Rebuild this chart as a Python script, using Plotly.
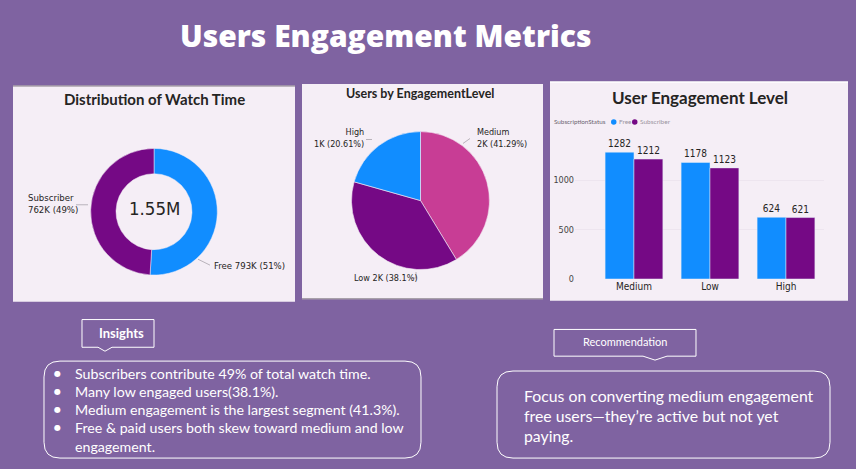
import plotly.graph_objects as go

W, H = 856, 469

# ---------------- data ----------------
watch_labels = ["Free", "Subscriber"]
watch_values = [793, 762]          # thousands of hours
watch_total_text = "1.55M"

level_labels = ["Medium", "Low", "High"]
level_users = [2494, 2301, 1245]

bar_levels = ["Medium", "Low", "High"]
free_counts = [1282, 1178, 624]
subscriber_counts = [1212, 1123, 621]

insights = [
    "Subscribers contribute 49% of total watch time.",
    "Many low engaged users(38.1%).",
    "Medium engagement is the largest segment (41.3%).",
    "Free & paid users both skew toward medium and low",
]
insight_tail = "engagement."
recommendation = [
    "Focus on converting medium engagement",
    "free users\u2014they\u2019re active but not yet",
    "paying.",
]

# ---------------- styling ----------------
BG = "#7F63A1"
PANEL = "#F5EEF6"
BLUE = "#118DFF"
PURPLE = "#750985"
PINK = "#C83D95"
DARK = "#252423"


def X(px):
    return px / W


def Y(py):
    return 1 - py / H


def rrect_path(x0, y0, x1, y1, r):
    pts = [
        ("M", [(x0 + r, y0)]),
        ("L", [(x1 - r, y0)]),
        ("Q", [(x1, y0), (x1, y0 + r)]),
        ("L", [(x1, y1 - r)]),
        ("Q", [(x1, y1), (x1 - r, y1)]),
        ("L", [(x0 + r, y1)]),
        ("Q", [(x0, y1), (x0, y1 - r)]),
        ("L", [(x0, y0 + r)]),
        ("Q", [(x0, y0), (x0 + r, y0)]),
    ]
    s = ""
    for cmd, ps in pts:
        s += cmd + " " + " ".join(f"{X(a):.5f},{Y(b):.5f}" for a, b in ps) + " "
    return s + "Z"


def callout_path(x0, y0, x1, y1, nx0, nx1, tip):
    ps = [(x0, y0), (x1, y0), (x1, y1), (nx1, y1), ((nx0 + nx1) / 2, tip), (nx0, y1), (x0, y1)]
    s = "M " + " L ".join(f"{X(a):.5f},{Y(b):.5f}" for a, b in ps)
    return s + " Z"


fig = go.Figure()

# Donut: distribution of watch time
fig.add_trace(go.Pie(
    labels=watch_labels, values=watch_values, hole=0.6, sort=False,
    direction="clockwise", rotation=0,
    marker=dict(colors=[BLUE, PURPLE], line=dict(color=PANEL, width=0.5)),
    textinfo="none", showlegend=False,
    domain=dict(x=[X(90), X(218)], y=[Y(278), Y(150)]),
))

# Pie: users by engagement level
fig.add_trace(go.Pie(
    labels=level_labels, values=level_users, sort=False,
    direction="clockwise", rotation=0,
    marker=dict(colors=[PINK, PURPLE, BLUE], line=dict(color=PANEL, width=0.6)),
    textinfo="none", showlegend=False,
    domain=dict(x=[X(351), X(490)], y=[Y(272.5), Y(133)]),
))

# Clustered bars
fig.add_trace(go.Bar(
    x=bar_levels, y=free_counts, name="Free", marker_color=BLUE,
    text=free_counts, texttemplate="%{y}", textposition="outside",
    textfont=dict(size=10, color=DARK, family="DejaVu Sans Condensed"),
    cliponaxis=False, showlegend=False,
))
fig.add_trace(go.Bar(
    x=bar_levels, y=subscriber_counts, name="Subscriber", marker_color=PURPLE,
    text=subscriber_counts, texttemplate="%{y}", textposition="outside",
    textfont=dict(size=10, color=DARK, family="DejaVu Sans Condensed"),
    cliponaxis=False, showlegend=False,
))

fig.update_layout(
    width=W, height=H,
    margin=dict(l=0, r=0, t=0, b=0),
    paper_bgcolor=BG, plot_bgcolor="rgba(0,0,0,0)",
    barmode="group", bargap=0.24, bargroupgap=0,
    xaxis=dict(domain=[X(575), X(824)], range=[-0.776, 2.5],
               tickfont=dict(size=10, color=DARK, family="DejaVu Sans Condensed"),
               showgrid=False, zeroline=False, showline=False, ticks=""),
    yaxis=dict(domain=[Y(282), Y(142)], range=[0, 1400],
               tickvals=[0, 500, 1000], tickfont=dict(size=9, color="#444", family="DejaVu Sans Condensed"),
               showgrid=True, gridcolor="#EDE5EF", gridwidth=1, zeroline=False, showline=False),
    font=dict(family="Lato"),
)

shapes = []
# panels
shapes.append(dict(type="rect", xref="paper", yref="paper", x0=X(13), x1=X(295), y0=Y(305), y1=Y(87),
                   fillcolor=PANEL, line=dict(width=0), layer="below"))
shapes.append(dict(type="line", xref="paper", yref="paper", x0=X(13), x1=X(295), y0=Y(87), y1=Y(87),
                   line=dict(color="#A8A0AA", width=1.5), layer="below"))
shapes.append(dict(type="rect", xref="paper", yref="paper", x0=X(302), x1=X(543), y0=Y(302), y1=Y(85),
                   fillcolor=PANEL, line=dict(width=0), layer="below"))
shapes.append(dict(type="line", xref="paper", yref="paper", x0=X(302), x1=X(543), y0=Y(302), y1=Y(302),
                   line=dict(color="#A8A0AA", width=1.5), layer="below"))
shapes.append(dict(type="rect", xref="paper", yref="paper", x0=X(550), x1=X(848), y0=Y(304), y1=Y(83),
                   fillcolor=PANEL, line=dict(width=0), layer="below"))
shapes.append(dict(type="line", xref="paper", yref="paper", x0=X(550), x1=X(848), y0=Y(83), y1=Y(83),
                   line=dict(color="#FFFFFF", width=1.5), layer="below"))

# callout boxes
shapes.append(dict(type="path", xref="paper", yref="paper", path=callout_path(82, 323, 154, 351, 98, 112, 355),
                   line=dict(color="white", width=1), fillcolor="rgba(0,0,0,0)"))
shapes.append(dict(type="path", xref="paper", yref="paper", path=rrect_path(44, 365, 421, 463, 16),
                   line=dict(color="white", width=1), fillcolor="rgba(0,0,0,0)"))
shapes.append(dict(type="path", xref="paper", yref="paper", path=callout_path(554, 333, 696, 360, 643, 667, 364),
                   line=dict(color="white", width=1), fillcolor="rgba(0,0,0,0)"))
shapes.append(dict(type="path", xref="paper", yref="paper", path=rrect_path(497, 375, 830, 463, 16),
                   line=dict(color="white", width=1), fillcolor="rgba(0,0,0,0)"))

# leader lines for pie labels
LEAD = "#B9B3BB"
for (ax0, ay0, ax1, ay1) in [(76, 207, 88, 207), (198, 262, 210, 268),
                             (366, 141, 372, 141), (463, 145, 470, 140),
                             (410, 281, 416, 281)]:
    shapes.append(dict(type="line", xref="paper", yref="paper", x0=X(ax0), y0=Y(ay0), x1=X(ax1), y1=Y(ay1),
                       line=dict(color=LEAD, width=1)))
shapes.append(dict(type="line", xref="paper", yref="paper", x0=X(416), y0=Y(281), x1=X(416), y1=Y(275),
                   line=dict(color=LEAD, width=1)))

# legend dots
shapes.append(dict(type="circle", xref="paper", yref="paper", x0=X(611), x1=X(616.5), y0=Y(126), y1=Y(120.5),
                   fillcolor=BLUE, line=dict(width=0)))
shapes.append(dict(type="circle", xref="paper", yref="paper", x0=X(632), x1=X(637.5), y0=Y(126), y1=Y(120.5),
                   fillcolor=PURPLE, line=dict(width=0)))
fig.update_layout(shapes=shapes)

ann = []


def txt(x, y, s, size, color=DARK, family="Lato", xanchor="center", bold=False, weight=None, align="left"):
    f = dict(size=size, color=color, family=family)
    if weight is not None:
        f["weight"] = weight
    elif bold:
        f["weight"] = "bold"
    ann.append(dict(x=X(x), y=Y(y), xref="paper", yref="paper", text=s, showarrow=False,
                    xanchor=xanchor, yanchor="middle", font=f, align=align))


# main title
txt(385, 36, "Users Engagement Metrics", 30, color="white", family="Open Sans", weight=800)

# panel titles
txt(154, 100, "Distribution of Watch Time", 15, family="Lato", weight="bold")
txt(420, 95, "Users by EngagementLevel", 12.5, family="Lato", weight="bold")
txt(700, 99, "User Engagement Level", 17, family="Lato", weight="bold")

# donut labels
LBL = "DejaVu Sans Condensed"
txt(154, 211, watch_total_text, 18.5, family=LBL)
txt(26, 206, f"{watch_labels[1]}<br>{watch_values[1]}K (49%)", 9.5, family=LBL, xanchor="left")
txt(212, 268, f"{watch_labels[0]} {watch_values[0]}K (51%)", 9.5, family=LBL, xanchor="left")

# pie labels
txt(366, 139, "High<br>1K (20.61%)", 9, family=LBL, xanchor="right", align="right")
txt(475, 139, "Medium<br>2K (41.29%)", 9, family=LBL, xanchor="left")
txt(352, 281, "Low 2K (38.1%)", 9, family=LBL, xanchor="left")

# legend texts
txt(552, 123, "SubscriptionStatus", 6.3, color="#6B6570", family="Lato", xanchor="left")
txt(617, 123, "Free", 6.5, color="#9A94A0", family="Lato", xanchor="left")
txt(638, 123, "Subscriber", 6.5, color="#9A94A0", family="Lato", xanchor="left")

# insights
txt(122, 337, "Insights", 13, color="white", family="Lato", weight="bold")
line_y = [378, 396, 414, 432]
for yy, s in zip(line_y, insights):
    txt(58, yy, "\u25CF", 8, color="white", family="DejaVu Sans")
    txt(73, yy, s, 14.2, color="white", family="Lato", xanchor="left")
txt(73, 451, insight_tail, 14.2, color="white", family="Lato", xanchor="left")

# recommendation
txt(625, 345, "Recommendation", 11, color="white", family="Lato")
for yy, s in zip([400, 420, 440], recommendation):
    txt(522, yy, s, 15.8, color="white", family="Lato", xanchor="left")

fig.update_layout(annotations=ann)
fig.write_html("out.html")
